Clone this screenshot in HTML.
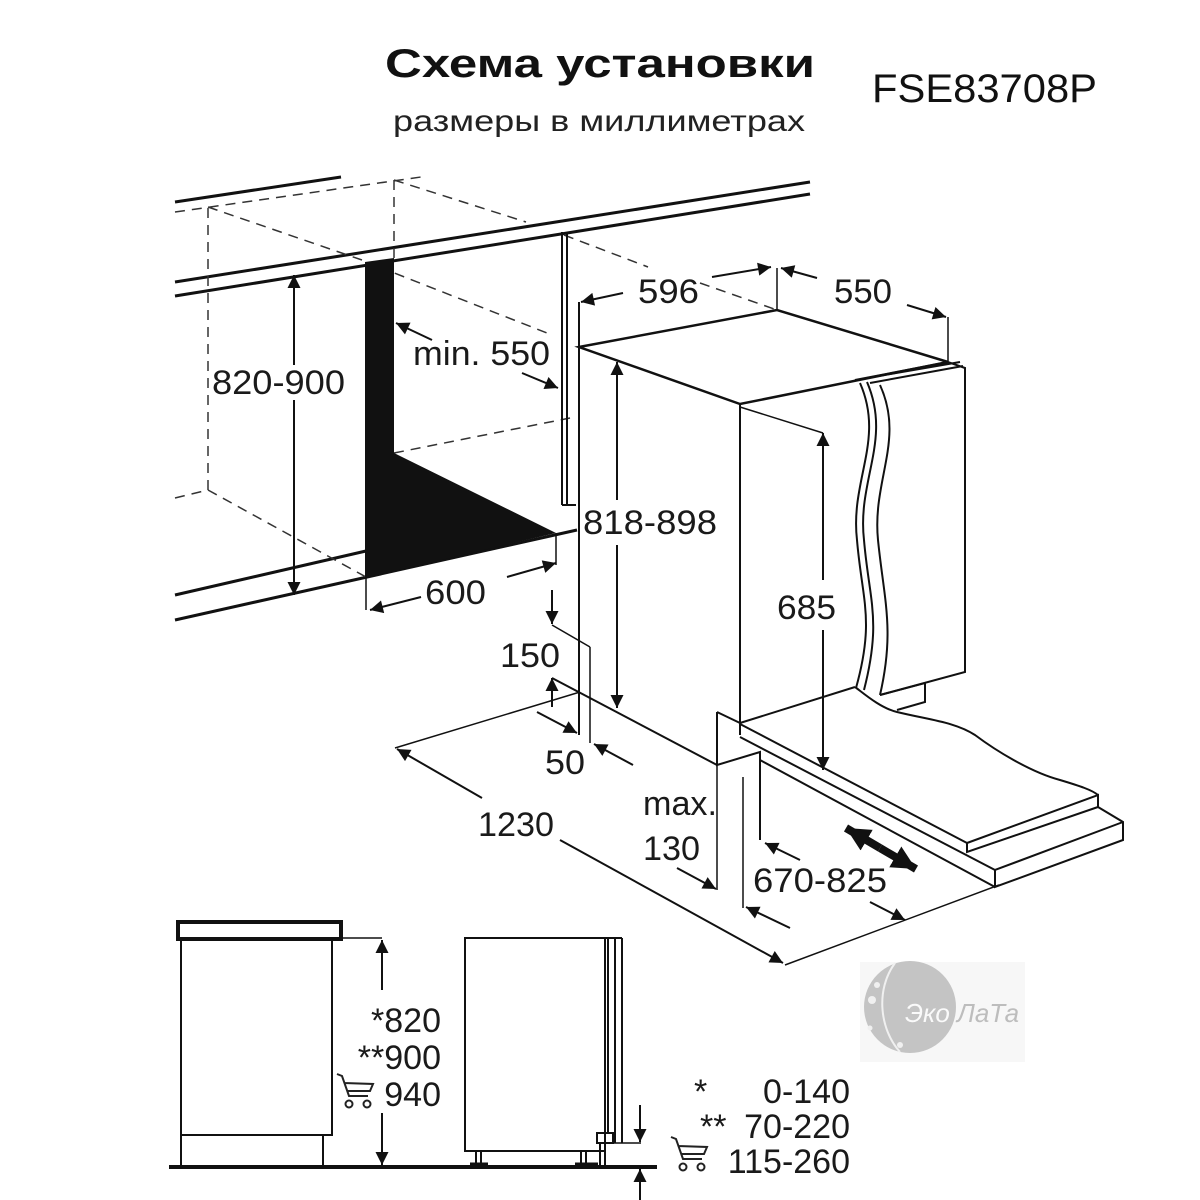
<!DOCTYPE html>
<html><head><meta charset="utf-8"><style>
html,body{margin:0;padding:0;background:#fff}
svg{display:block}
text{font-family:"Liberation Sans","DejaVu Sans",sans-serif;fill:#1a1a1a}
</style></head><body>
<svg width="1200" height="1200" viewBox="0 0 1200 1200" xmlns="http://www.w3.org/2000/svg">
<defs>
<marker id="ar" viewBox="0 0 10 10" refX="10" refY="5" markerWidth="26" markerHeight="13" orient="auto" markerUnits="userSpaceOnUse">
<path d="M0,0 L10,5 L0,10 z" fill="#111"/></marker>
<marker id="big" viewBox="0 0 10 10" refX="10" refY="5" markerWidth="24" markerHeight="26" orient="auto" markerUnits="userSpaceOnUse">
<path d="M0,0 L10,5 L0,10 z" fill="#111"/></marker>
</defs>

<text x="385" y="77" font-size="40" font-weight="bold" textLength="430" lengthAdjust="spacingAndGlyphs" style="fill:#111">Схема установки</text>
<text x="393" y="131" font-size="30" textLength="412" lengthAdjust="spacingAndGlyphs" style="fill:#222">размеры в миллиметрах</text>
<text x="872" y="102" font-size="40" textLength="225" lengthAdjust="spacingAndGlyphs" style="fill:#111">FSE83708P</text>

<g stroke="#111" fill="none" stroke-width="2">
<line x1="175" y1="202" x2="341" y2="177" stroke-width="3"/>
<line x1="175" y1="282" x2="810" y2="182" stroke-width="3"/>
<line x1="175" y1="296" x2="810" y2="194" stroke-width="3"/>
<line x1="175" y1="595" x2="366" y2="551" stroke-width="3"/>
<line x1="175" y1="620" x2="577" y2="530" stroke-width="3"/>
</g>
<g stroke="#333" fill="none" stroke-width="1.5" stroke-dasharray="10,7">
<line x1="175" y1="212" x2="421" y2="177"/>
<line x1="208" y1="208" x2="208" y2="490"/>
<line x1="394" y1="180" x2="394" y2="260"/>
<line x1="394" y1="180" x2="526" y2="222"/>
<line x1="564" y1="235" x2="648" y2="267"/>
<line x1="208" y1="207" x2="362" y2="260"/>
<line x1="379" y1="267" x2="547" y2="333"/>
<line x1="394" y1="453" x2="570" y2="418"/>
<line x1="175" y1="498" x2="208" y2="490"/>
<line x1="208" y1="490" x2="366" y2="577"/>
<line x1="700" y1="283" x2="777" y2="310"/>
</g>
<polygon points="365,262 394,258 394,453 556,533 365,578" fill="#111"/>
<g stroke="#111" fill="none" stroke-width="2">
<line x1="562" y1="232" x2="562" y2="505"/>
<line x1="567" y1="232" x2="567" y2="505"/>
<line x1="562" y1="505" x2="576" y2="505"/>
<line x1="556" y1="533" x2="556" y2="565" stroke-width="1.5"/>
<line x1="366" y1="577" x2="366" y2="610" stroke-width="1.5"/>

<polygon points="579,347 777,310 948,362 740,404" stroke-width="2.5"/>
<line x1="579" y1="302" x2="579" y2="735"/>
<line x1="740" y1="404" x2="740" y2="723"/>
<line x1="777" y1="268" x2="777" y2="310" stroke-width="1.5"/>
<line x1="948" y1="317" x2="948" y2="362" stroke-width="1.5"/>
<line x1="740" y1="407" x2="823" y2="433" stroke-width="1.5"/>
<polyline points="855,380 948,362 965,368 965,672 880,695"/>
<line x1="870" y1="383" x2="963" y2="366"/>
<line x1="867" y1="378" x2="960" y2="362"/>
<path d="M860,383 C885,440 850,480 857,540 C862,600 875,620 856,688"/>
<path d="M867,382 C892,440 857,480 864,540 C869,600 882,620 864,690"/>
<path d="M880,385 C905,440 872,480 878,540 C884,600 895,630 880,695"/>
<polyline points="880,695 925,683 925,702 897,710"/>
<line x1="740" y1="723" x2="855" y2="687"/>
<polyline points="717,712 717,765 760,752 760,840"/>
<line x1="717" y1="712" x2="740" y2="723"/>
<line x1="740" y1="723" x2="740" y2="735"/>
<line x1="552" y1="678" x2="717" y2="765" stroke-width="2"/>
<line x1="552" y1="625" x2="590" y2="647" stroke-width="1.5"/>
<line x1="590" y1="647" x2="590" y2="743" stroke-width="1.5"/>
<line x1="395" y1="748" x2="580" y2="692" stroke-width="1.5"/>
<line x1="785" y1="965" x2="999" y2="885" stroke-width="1.5"/>
<line x1="717" y1="765" x2="717" y2="890" stroke-width="1.5"/>
<line x1="743" y1="777" x2="743" y2="908" stroke-width="1.5"/>
<path d="M855,687 C862,692 880,708 897,712 C930,720 955,722 975,735 C995,750 1030,772 1060,780 C1080,786 1092,790 1098,795"/>
<line x1="740" y1="724" x2="967" y2="843"/>
<line x1="740" y1="737" x2="995" y2="870"/>
<line x1="760" y1="760" x2="995" y2="887"/>
<polyline points="967,843 1098,795 1098,807 967,852 967,843"/>
<polyline points="1098,807 1123,822 1123,840 995,887 995,870 1123,822"/>
</g>

<g stroke="#111" stroke-width="2" fill="none" marker-end="url(#ar)">
<line x1="294" y1="365" x2="294" y2="275"/>
<line x1="294" y1="400" x2="294" y2="595"/>
<line x1="432" y1="340" x2="396" y2="323"/>
<line x1="522" y1="373" x2="558" y2="388"/>
<line x1="421" y1="597" x2="370" y2="610"/>
<line x1="507" y1="577" x2="556" y2="563"/>
<line x1="623" y1="293" x2="581" y2="302"/>
<line x1="712" y1="277" x2="771" y2="267"/>
<line x1="817" y1="278" x2="781" y2="268"/>
<line x1="907" y1="305" x2="946" y2="317"/>
<line x1="617" y1="500" x2="617" y2="362"/>
<line x1="617" y1="545" x2="617" y2="708"/>
<line x1="823" y1="580" x2="823" y2="433"/>
<line x1="823" y1="630" x2="823" y2="770"/>
<line x1="552" y1="590" x2="552" y2="624"/>
<line x1="552" y1="707" x2="552" y2="678"/>
<line x1="537" y1="712" x2="577" y2="733"/>
<line x1="633" y1="765" x2="594" y2="744"/>
<line x1="482" y1="798" x2="397" y2="749"/>
<line x1="560" y1="840" x2="783" y2="963"/>
<line x1="677" y1="868" x2="716" y2="889"/>
<line x1="800" y1="860" x2="765" y2="843"/>
<line x1="790" y1="928" x2="746" y2="907"/>
<line x1="870" y1="902" x2="905" y2="920"/>
</g>
<g stroke="#111" stroke-width="8" marker-end="url(#big)">
<line x1="880" y1="848" x2="846" y2="828"/>
<line x1="880" y1="848" x2="916" y2="869"/>
</g>

<g font-size="34">
<text x="212" y="394" textLength="133" lengthAdjust="spacingAndGlyphs">820-900</text>
<text x="413" y="365" textLength="137" lengthAdjust="spacingAndGlyphs">min. 550</text>
<text x="425" y="604" textLength="61" lengthAdjust="spacingAndGlyphs">600</text>
<text x="638" y="303" textLength="61" lengthAdjust="spacingAndGlyphs">596</text>
<text x="834" y="303" textLength="58" lengthAdjust="spacingAndGlyphs">550</text>
<text x="583" y="534" textLength="134" lengthAdjust="spacingAndGlyphs">818-898</text>
<text x="777" y="619" textLength="59" lengthAdjust="spacingAndGlyphs">685</text>
<text x="500" y="667" textLength="60" lengthAdjust="spacingAndGlyphs">150</text>
<text x="545" y="774" textLength="40" lengthAdjust="spacingAndGlyphs">50</text>
<text x="478" y="836" textLength="76" lengthAdjust="spacingAndGlyphs">1230</text>
<text x="643" y="815" textLength="74" lengthAdjust="spacingAndGlyphs">max.</text>
<text x="643" y="860" textLength="57" lengthAdjust="spacingAndGlyphs">130</text>
<text x="753" y="892" textLength="134" lengthAdjust="spacingAndGlyphs">670-825</text>
</g>

<g stroke="#111" fill="none" stroke-width="2">
<rect x="178" y="922" width="163" height="17" stroke-width="4"/>
<rect x="181" y="940" width="151" height="195"/>
<line x1="181" y1="1135" x2="181" y2="1166"/>
<line x1="323" y1="1135" x2="323" y2="1166"/>
<line x1="342" y1="938" x2="382" y2="938" stroke-width="1.5"/>
<line x1="169" y1="1167" x2="657" y2="1167" stroke-width="4"/>
<rect x="465" y="938" width="140" height="213"/>
<line x1="608" y1="938" x2="608" y2="1133"/>
<line x1="615" y1="938" x2="615" y2="1143"/>
<line x1="622" y1="938" x2="622" y2="1143"/>
<line x1="605" y1="938" x2="622" y2="938"/>
<rect x="597" y="1133" width="16" height="10"/>
<line x1="600" y1="1143" x2="600" y2="1166"/>
<line x1="605" y1="1143" x2="605" y2="1166"/>
<line x1="476" y1="1151" x2="476" y2="1163"/>
<line x1="481" y1="1151" x2="481" y2="1163"/>
<line x1="581" y1="1151" x2="581" y2="1163"/>
<line x1="586" y1="1151" x2="586" y2="1163"/>
<line x1="470" y1="1164" x2="488" y2="1164" stroke-width="3"/>
<line x1="575" y1="1164" x2="598" y2="1164" stroke-width="3"/>
<line x1="613" y1="1143" x2="641" y2="1143" stroke-width="1.5"/>
</g>
<g stroke="#111" stroke-width="2" fill="none" marker-end="url(#ar)">
<line x1="382" y1="990" x2="382" y2="940"/>
<line x1="382" y1="1113" x2="382" y2="1165"/>
<line x1="640" y1="1105" x2="640" y2="1142"/>
<line x1="640" y1="1200" x2="640" y2="1169"/>
</g>
<g font-size="34">
<text x="441" y="1032" text-anchor="end">*820</text>
<text x="441" y="1069" text-anchor="end">**900</text>
<text x="441" y="1106" text-anchor="end">940</text>
<text x="850" y="1103" text-anchor="end">0-140</text>
<text x="694" y="1103">*</text>
<text x="850" y="1138" text-anchor="end">70-220</text>
<text x="700" y="1138">**</text>
<text x="850" y="1173" text-anchor="end">115-260</text>
</g>
<g stroke="#222" fill="none" stroke-width="2">
<path d="M337,1074 L342,1076 L349,1096 L368,1096 M344,1083 L373,1084 L370,1091 L347,1091"/>
<circle cx="349" cy="1104" r="3.5"/><circle cx="367" cy="1104" r="3.5"/>
<path d="M671,1137 L676,1139 L683,1159 L702,1159 M678,1146 L707,1147 L704,1154 L681,1154"/>
<circle cx="683" cy="1167" r="3.5"/><circle cx="701" cy="1167" r="3.5"/>
</g>

<rect x="860" y="962" width="165" height="100" fill="#f7f7f7"/>
<circle cx="910" cy="1007" r="46" fill="#c4c4c4"/>
<path d="M895,963 C875,990 880,1030 900,1052" stroke="#f0f0f0" stroke-width="2" fill="none"/>
<circle cx="872" cy="1000" r="4" fill="#f0f0f0"/><circle cx="877" cy="985" r="3" fill="#f0f0f0"/>
<circle cx="870" cy="1028" r="2.5" fill="#f0f0f0"/><circle cx="900" cy="1045" r="3" fill="#f0f0f0"/>
<text x="905" y="1022" font-size="26" font-style="italic" style="fill:#fafafa">Эко</text>
<text x="957" y="1022" font-size="26" font-style="italic" style="fill:#bdbdbd">ЛаТа</text>
</svg>
</body></html>
